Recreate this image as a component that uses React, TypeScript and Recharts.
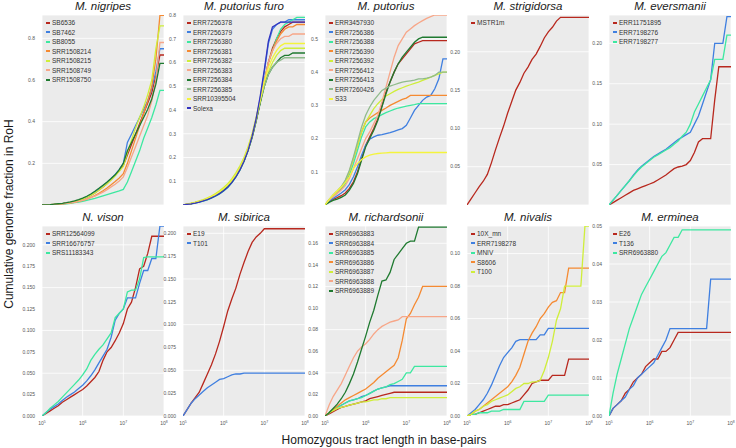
import { LineChart, Line, XAxis, YAxis, CartesianGrid } from 'recharts';

// log10 of the tract length (bp) at each sample point
const logLen = [
  5.0, 5.1, 5.2, 5.3, 5.4, 5.5, 5.6, 5.7, 5.8, 5.9,
  6.0, 6.1, 6.2, 6.3, 6.4, 6.5, 6.6, 6.7, 6.8, 6.9,
  7.0, 7.1, 7.2, 7.3, 7.4, 7.5, 7.6, 7.7, 7.8, 7.9, 8.0,
];
const xTicks = [5, 6, 7, 8];

const palette = ['#b8281e', '#3f7fe0', '#3de8a0', '#f58a32', '#cfee3a', '#f7a688', '#1f7a30', '#90bb8c', '#f4f43c', '#3434c0'];

// --- M. nigripes
const sb6536 = [0, 0.001, 0.002, 0.003, 0.005, 0.007, 0.009, 0.012, 0.016, 0.021, 0.028, 0.036, 0.046, 0.058, 0.072, 0.087, 0.103, 0.122, 0.142, 0.165, 0.19, 0.24, 0.29, 0.34, 0.39, 0.44, 0.49, 0.54, 0.62, 0.72, 0.72];
const sb7462 = [0, 0.001, 0.002, 0.003, 0.005, 0.007, 0.009, 0.012, 0.016, 0.022, 0.029, 0.038, 0.049, 0.062, 0.076, 0.092, 0.108, 0.127, 0.147, 0.17, 0.2, 0.3, 0.34, 0.38, 0.42, 0.46, 0.5, 0.56, 0.64, 0.75, 0.75];
const sb8055 = [0, 0.001, 0.001, 0.002, 0.003, 0.004, 0.006, 0.008, 0.011, 0.014, 0.018, 0.022, 0.027, 0.032, 0.038, 0.044, 0.05, 0.056, 0.062, 0.068, 0.075, 0.11, 0.16, 0.21, 0.26, 0.32, 0.37, 0.42, 0.48, 0.55, 0.55];
const srr1508214 = [0, 0.001, 0.002, 0.003, 0.004, 0.006, 0.008, 0.01, 0.013, 0.017, 0.022, 0.028, 0.036, 0.045, 0.056, 0.068, 0.082, 0.097, 0.113, 0.13, 0.15, 0.2, 0.26, 0.32, 0.38, 0.44, 0.5, 0.57, 0.7, 0.91, 0.91];
const srr1508215 = [0, 0.001, 0.002, 0.003, 0.005, 0.007, 0.009, 0.012, 0.016, 0.021, 0.028, 0.036, 0.046, 0.058, 0.071, 0.086, 0.102, 0.12, 0.14, 0.162, 0.185, 0.25, 0.31, 0.37, 0.42, 0.47, 0.53, 0.6, 0.75, 0.86, 0.86];
const srr1508749 = [0, 0.001, 0.002, 0.003, 0.004, 0.006, 0.008, 0.01, 0.013, 0.017, 0.022, 0.028, 0.035, 0.043, 0.052, 0.062, 0.074, 0.087, 0.1, 0.115, 0.135, 0.18, 0.23, 0.28, 0.33, 0.38, 0.43, 0.5, 0.6, 0.78, 0.78];
const srr1508750 = [0, 0.001, 0.002, 0.004, 0.006, 0.008, 0.011, 0.015, 0.02, 0.026, 0.033, 0.042, 0.053, 0.066, 0.08, 0.095, 0.11, 0.127, 0.145, 0.17, 0.2, 0.26, 0.3, 0.34, 0.38, 0.42, 0.46, 0.51, 0.58, 0.68, 0.68];

// --- M. putorius furo
const err7256378 = [0, 0.003, 0.006, 0.01, 0.014, 0.019, 0.025, 0.032, 0.04, 0.05, 0.062, 0.077, 0.096, 0.12, 0.15, 0.185, 0.23, 0.285, 0.355, 0.435, 0.52, 0.6, 0.66, 0.7, 0.73, 0.75, 0.76, 0.77, 0.77, 0.77, 0.77];
const err7256379 = [0, 0.003, 0.006, 0.009, 0.013, 0.018, 0.024, 0.031, 0.039, 0.049, 0.061, 0.076, 0.095, 0.12, 0.15, 0.185, 0.23, 0.29, 0.36, 0.45, 0.56, 0.68, 0.74, 0.76, 0.77, 0.77, 0.78, 0.78, 0.78, 0.78, 0.78];
const err7256380 = [0, 0.003, 0.005, 0.008, 0.012, 0.016, 0.022, 0.029, 0.037, 0.047, 0.059, 0.074, 0.093, 0.117, 0.147, 0.183, 0.228, 0.283, 0.353, 0.433, 0.52, 0.6, 0.65, 0.7, 0.74, 0.76, 0.77, 0.78, 0.79, 0.79, 0.79];
const err7256381 = [0, 0.003, 0.006, 0.01, 0.014, 0.019, 0.025, 0.032, 0.041, 0.051, 0.063, 0.078, 0.097, 0.121, 0.151, 0.187, 0.232, 0.288, 0.357, 0.437, 0.52, 0.6, 0.65, 0.69, 0.72, 0.74, 0.75, 0.75, 0.76, 0.76, 0.76];
const err7256382 = [0, 0.004, 0.008, 0.012, 0.017, 0.023, 0.03, 0.038, 0.048, 0.06, 0.074, 0.09, 0.11, 0.135, 0.165, 0.2, 0.245, 0.3, 0.37, 0.44, 0.5, 0.56, 0.6, 0.63, 0.65, 0.66, 0.66, 0.66, 0.66, 0.66, 0.66];
const err7256383 = [0, 0.003, 0.006, 0.01, 0.014, 0.019, 0.025, 0.033, 0.042, 0.052, 0.065, 0.08, 0.1, 0.124, 0.154, 0.19, 0.235, 0.29, 0.36, 0.44, 0.52, 0.6, 0.65, 0.68, 0.7, 0.71, 0.71, 0.72, 0.72, 0.72, 0.72];
const err7256384 = [0, 0.003, 0.006, 0.01, 0.014, 0.019, 0.025, 0.032, 0.041, 0.051, 0.063, 0.078, 0.097, 0.121, 0.151, 0.187, 0.232, 0.287, 0.355, 0.43, 0.5, 0.55, 0.58, 0.6, 0.62, 0.63, 0.63, 0.64, 0.64, 0.64, 0.64];
const err7256385 = [0, 0.003, 0.006, 0.01, 0.015, 0.02, 0.026, 0.034, 0.043, 0.054, 0.067, 0.082, 0.101, 0.125, 0.155, 0.19, 0.235, 0.29, 0.36, 0.44, 0.5, 0.55, 0.58, 0.6, 0.61, 0.62, 0.62, 0.62, 0.62, 0.62, 0.62];
const srr10395504 = [0, 0.004, 0.007, 0.011, 0.016, 0.021, 0.028, 0.036, 0.045, 0.056, 0.069, 0.085, 0.104, 0.128, 0.158, 0.194, 0.24, 0.295, 0.365, 0.44, 0.52, 0.58, 0.62, 0.65, 0.67, 0.68, 0.68, 0.68, 0.68, 0.68, 0.68];
const solexa = [0, 0.003, 0.005, 0.008, 0.012, 0.017, 0.023, 0.03, 0.038, 0.048, 0.06, 0.075, 0.094, 0.118, 0.148, 0.184, 0.23, 0.29, 0.365, 0.46, 0.57, 0.69, 0.75, 0.76, 0.77, 0.77, 0.77, 0.77, 0.77, 0.77, 0.77];

// --- M. putorius
const err3457930 = [0, 0.01, 0.017, 0.022, 0.028, 0.036, 0.05, 0.07, 0.1, 0.14, 0.18, 0.205, 0.23, 0.26, 0.3, 0.34, 0.37, 0.4, 0.425, 0.44, 0.455, 0.47, 0.485, 0.49, 0.495, 0.495, 0.495, 0.495, 0.495, 0.495, 0.495];
const err7256386 = [0, 0.012, 0.02, 0.028, 0.036, 0.046, 0.062, 0.085, 0.115, 0.15, 0.18, 0.198, 0.205, 0.21, 0.212, 0.215, 0.218, 0.222, 0.226, 0.23, 0.24, 0.262, 0.285, 0.3, 0.315, 0.325, 0.33, 0.35, 0.38, 0.44, 0.44];
const err7256388 = [0, 0.014, 0.026, 0.036, 0.048, 0.064, 0.09, 0.125, 0.165, 0.205, 0.235, 0.25, 0.26, 0.265, 0.272, 0.278, 0.283, 0.288, 0.292, 0.295, 0.298, 0.3, 0.302, 0.305, 0.305, 0.305, 0.305, 0.305, 0.305, 0.305, 0.305];
const err7256390 = [0, 0.015, 0.028, 0.04, 0.052, 0.07, 0.1, 0.14, 0.18, 0.22, 0.25, 0.262, 0.27, 0.278, 0.285, 0.292, 0.3, 0.306, 0.312, 0.318, 0.322, 0.33, 0.33, 0.33, 0.33, 0.33, 0.33, 0.33, 0.33, 0.33, 0.33];
const err7256392 = [0, 0.016, 0.03, 0.042, 0.055, 0.073, 0.1, 0.14, 0.18, 0.22, 0.25, 0.27, 0.29, 0.305, 0.318, 0.328, 0.335, 0.342, 0.348, 0.353, 0.358, 0.362, 0.366, 0.37, 0.375, 0.38, 0.385, 0.39, 0.395, 0.4, 0.4];
const err7256412 = [0, 0.015, 0.025, 0.035, 0.045, 0.058, 0.08, 0.11, 0.14, 0.17, 0.2, 0.22, 0.245, 0.27, 0.31, 0.355, 0.4, 0.445, 0.48, 0.5, 0.52, 0.53, 0.54, 0.548, 0.555, 0.562, 0.567, 0.572, 0.572, 0.572, 0.572];
const err7256413 = [0, 0.008, 0.014, 0.018, 0.023, 0.03, 0.045, 0.065, 0.095, 0.135, 0.175, 0.2, 0.225, 0.255, 0.295, 0.335, 0.37, 0.4, 0.425, 0.445, 0.46, 0.475, 0.49, 0.5, 0.505, 0.505, 0.505, 0.505, 0.505, 0.505, 0.505];
const err7260426 = [0, 0.016, 0.03, 0.042, 0.055, 0.075, 0.105, 0.145, 0.19, 0.235, 0.27, 0.295, 0.315, 0.33, 0.345, 0.352, 0.358, 0.362, 0.366, 0.37, 0.372, 0.374, 0.376, 0.38, 0.38, 0.382, 0.385, 0.39, 0.4, 0.4, 0.4];
const s33 = [0, 0.016, 0.03, 0.042, 0.054, 0.068, 0.085, 0.11, 0.125, 0.137, 0.145, 0.15, 0.153, 0.155, 0.156, 0.157, 0.158, 0.158, 0.158, 0.158, 0.158, 0.158, 0.158, 0.158, 0.158, 0.158, 0.158, 0.158, 0.158, 0.158, 0.158];

// --- M. strigidorsa
const mstr1m = [0, 0.008, 0.016, 0.024, 0.031, 0.04, 0.055, 0.072, 0.088, 0.103, 0.12, 0.135, 0.15, 0.16, 0.172, 0.18, 0.19, 0.197, 0.207, 0.218, 0.226, 0.232, 0.24, 0.245, 0.245, 0.245, 0.245, 0.245, 0.245, 0.245, 0.245];

// --- M. eversmanii
const err11751895 = [0, 0.003, 0.006, 0.009, 0.012, 0.015, 0.018, 0.02, 0.022, 0.024, 0.026, 0.028, 0.031, 0.034, 0.037, 0.041, 0.045, 0.047, 0.048, 0.05, 0.055, 0.065, 0.078, 0.082, 0.082, 0.082, 0.13, 0.171, 0.171, 0.171, 0.171];
const err7198276 = [0, 0.006, 0.012, 0.018, 0.024, 0.03, 0.037, 0.043, 0.048, 0.052, 0.056, 0.06, 0.063, 0.066, 0.069, 0.073, 0.077, 0.081, 0.084, 0.087, 0.09, 0.1, 0.11, 0.125, 0.14, 0.155, 0.2, 0.2, 0.2, 0.233, 0.233];
const err7198277 = [0, 0.006, 0.012, 0.018, 0.024, 0.03, 0.036, 0.042, 0.047, 0.051, 0.055, 0.059, 0.062, 0.065, 0.068, 0.071, 0.075, 0.079, 0.085, 0.09, 0.1, 0.115, 0.125, 0.135, 0.145, 0.155, 0.18, 0.18, 0.18, 0.21, 0.21];

// --- N. vison
const srr12564099 = [0, 0.003, 0.006, 0.009, 0.012, 0.016, 0.019, 0.022, 0.025, 0.028, 0.031, 0.035, 0.04, 0.045, 0.052, 0.065, 0.075, 0.08, 0.088, 0.097, 0.108, 0.125, 0.133, 0.15, 0.172, 0.175, 0.19, 0.21, 0.21, 0.21, 0.21];
const srr16676757 = [0, 0.004, 0.008, 0.011, 0.014, 0.018, 0.022, 0.025, 0.028, 0.032, 0.036, 0.041, 0.047, 0.054, 0.062, 0.07, 0.078, 0.092, 0.112, 0.12, 0.125, 0.138, 0.138, 0.138, 0.155, 0.17, 0.17, 0.184, 0.184, 0.222, 0.222];
const srs11183343 = [0, 0.004, 0.009, 0.013, 0.017, 0.022, 0.027, 0.032, 0.037, 0.042, 0.048, 0.055, 0.065, 0.072, 0.078, 0.083, 0.09, 0.097, 0.115, 0.12, 0.125, 0.145, 0.147, 0.147, 0.16, 0.185, 0.186, 0.186, 0.186, 0.186, 0.186];

// --- M. sibirica
const e19 = [0, 0.007, 0.014, 0.02, 0.026, 0.036, 0.046, 0.056, 0.068, 0.082, 0.098, 0.115, 0.128, 0.14, 0.155, 0.168, 0.18, 0.19, 0.196, 0.2, 0.205, 0.205, 0.205, 0.205, 0.205, 0.205, 0.205, 0.205, 0.205, 0.205, 0.205];
const t101 = [0, 0.007, 0.014, 0.019, 0.023, 0.027, 0.031, 0.034, 0.037, 0.04, 0.041, 0.043, 0.045, 0.046, 0.046, 0.047, 0.047, 0.047, 0.047, 0.047, 0.047, 0.047, 0.047, 0.047, 0.047, 0.047, 0.047, 0.047, 0.047, 0.047, 0.047];

// --- M. richardsonii
const srr6963883 = [0, 0.002, 0.004, 0.006, 0.008, 0.009, 0.01, 0.011, 0.012, 0.013, 0.014, 0.016, 0.017, 0.018, 0.019, 0.02, 0.021, 0.022, 0.022, 0.022, 0.022, 0.022, 0.022, 0.022, 0.022, 0.022, 0.022, 0.022, 0.022, 0.022, 0.022];
const srr6963884 = [0, 0.003, 0.006, 0.008, 0.01, 0.012, 0.014, 0.015, 0.016, 0.018, 0.019, 0.021, 0.023, 0.025, 0.026, 0.027, 0.028, 0.028, 0.028, 0.028, 0.028, 0.028, 0.028, 0.028, 0.028, 0.028, 0.028, 0.028, 0.028, 0.028, 0.028];
const srr6963885 = [0, 0.003, 0.006, 0.008, 0.01, 0.012, 0.014, 0.015, 0.016, 0.017, 0.019, 0.021, 0.023, 0.025, 0.026, 0.027, 0.029, 0.03, 0.032, 0.034, 0.04, 0.04, 0.046, 0.046, 0.046, 0.046, 0.046, 0.046, 0.046, 0.046, 0.046];
const srr6963886 = [0, 0.003, 0.006, 0.009, 0.012, 0.015, 0.017, 0.019, 0.021, 0.023, 0.025, 0.028, 0.031, 0.035, 0.038, 0.041, 0.044, 0.047, 0.054, 0.07, 0.09, 0.095, 0.103, 0.11, 0.12, 0.12, 0.12, 0.12, 0.12, 0.12, 0.12];
const srr6963887 = [0, 0.003, 0.005, 0.007, 0.008, 0.009, 0.01, 0.011, 0.012, 0.013, 0.013, 0.014, 0.015, 0.015, 0.016, 0.016, 0.017, 0.017, 0.017, 0.017, 0.017, 0.017, 0.017, 0.017, 0.017, 0.017, 0.017, 0.017, 0.017, 0.017, 0.017];
const srr6963888 = [0, 0.01, 0.018, 0.024, 0.03, 0.038, 0.046, 0.054, 0.06, 0.064, 0.067, 0.071, 0.076, 0.08, 0.083, 0.085, 0.087, 0.088, 0.089, 0.092, 0.092, 0.092, 0.092, 0.092, 0.092, 0.092, 0.092, 0.092, 0.092, 0.092, 0.092];
const srr6963889 = [0, 0.003, 0.007, 0.011, 0.016, 0.022, 0.03, 0.039, 0.05, 0.062, 0.074, 0.087, 0.098, 0.112, 0.125, 0.126, 0.133, 0.145, 0.15, 0.155, 0.16, 0.162, 0.162, 0.175, 0.175, 0.175, 0.175, 0.175, 0.175, 0.175, 0.175];

// --- M. nivalis
const mn10X = [0, 0.001, 0.001, 0.002, 0.003, 0.004, 0.005, 0.006, 0.006, 0.007, 0.007, 0.008, 0.009, 0.01, 0.013, 0.016, 0.02, 0.021, 0.022, 0.022, 0.022, 0.025, 0.025, 0.025, 0.025, 0.035, 0.035, 0.035, 0.035, 0.035, 0.035];
const err7198278 = [0, 0.002, 0.004, 0.007, 0.01, 0.014, 0.019, 0.025, 0.031, 0.036, 0.039, 0.042, 0.046, 0.047, 0.047, 0.047, 0.047, 0.047, 0.05, 0.05, 0.054, 0.054, 0.054, 0.054, 0.054, 0.054, 0.054, 0.054, 0.054, 0.054, 0.054];
const mniv = [0, 0.001, 0.001, 0.002, 0.002, 0.002, 0.003, 0.003, 0.003, 0.004, 0.004, 0.004, 0.004, 0.004, 0.009, 0.009, 0.009, 0.009, 0.009, 0.009, 0.0128, 0.0128, 0.0128, 0.0128, 0.0128, 0.0128, 0.0128, 0.0128, 0.0128, 0.0128, 0.0128];
const s8606 = [0, 0.001, 0.003, 0.004, 0.006, 0.008, 0.01, 0.012, 0.014, 0.016, 0.018, 0.021, 0.025, 0.03, 0.038, 0.046, 0.051, 0.055, 0.06, 0.063, 0.067, 0.07, 0.071, 0.076, 0.076, 0.091, 0.091, 0.091, 0.091, 0.091, 0.091];
const t100 = [0, 0.001, 0.003, 0.004, 0.006, 0.007, 0.009, 0.01, 0.011, 0.012, 0.013, 0.015, 0.017, 0.018, 0.02, 0.02, 0.021, 0.021, 0.022, 0.028, 0.036, 0.046, 0.059, 0.066, 0.08, 0.08, 0.08, 0.08, 0.08, 0.117, 0.117];

// --- M. erminea
const e26 = [0, 0.002, 0.003, 0.004, 0.006, 0.007, 0.009, 0.01, 0.011, 0.013, 0.014, 0.015, 0.015, 0.017, 0.017, 0.018, 0.02, 0.022, 0.022, 0.022, 0.022, 0.022, 0.022, 0.022, 0.022, 0.022, 0.022, 0.022, 0.022, 0.022, 0.022];
const t136 = [0, 0.002, 0.003, 0.004, 0.005, 0.007, 0.008, 0.01, 0.011, 0.012, 0.013, 0.014, 0.016, 0.018, 0.02, 0.023, 0.023, 0.023, 0.023, 0.023, 0.023, 0.023, 0.023, 0.023, 0.023, 0.036, 0.036, 0.036, 0.036, 0.036, 0.036];
const srr6963880 = [0, 0.006, 0.011, 0.015, 0.019, 0.023, 0.026, 0.029, 0.032, 0.034, 0.036, 0.038, 0.04, 0.042, 0.043, 0.045, 0.047, 0.047, 0.049, 0.049, 0.049, 0.049, 0.049, 0.049, 0.049, 0.049, 0.049, 0.049, 0.049, 0.049, 0.049];

// y tick values per panel
const ticksTenth8 = [0, 0.2, 0.4, 0.6, 0.8];
const ticksFuro = [0, 0.1, 0.2, 0.3, 0.4, 0.5, 0.6, 0.7, 0.8];
const ticksPutorius = [0, 0.1, 0.2, 0.3, 0.4, 0.5];
const ticksFifth = [0, 0.05, 0.1, 0.15, 0.2];
const ticksQuarter = [0, 0.025, 0.05, 0.075, 0.1, 0.125, 0.15, 0.175, 0.2];
const ticksRichardsonii = [0, 0.02, 0.04, 0.06, 0.08, 0.1, 0.12, 0.14, 0.16];
const ticksNivalis = [0, 0.02, 0.04, 0.06, 0.08, 0.1];
const ticksErminea = [0, 0.01, 0.02, 0.03, 0.04, 0.05];

interface Panel {
  title: string;
  col: number;
  row: number;
  yMax: number;
  yTicks: number[];
  digits: number;
  series: [string, number[]][];
}

const panels: Panel[] = [
  {
    title: 'M. nigripes', col: 0, row: 0, yMax: 0.912, yTicks: ticksTenth8, digits: 1,
    series: [['SB6536', sb6536], ['SB7462', sb7462], ['SB8055', sb8055], ['SRR1508214', srr1508214], ['SRR1508215', srr1508215], ['SRR1508749', srr1508749], ['SRR1508750', srr1508750]],
  },
  {
    title: 'M. putorius furo', col: 1, row: 0, yMax: 0.8, yTicks: ticksFuro, digits: 1,
    series: [['ERR7256378', err7256378], ['ERR7256379', err7256379], ['ERR7256380', err7256380], ['ERR7256381', err7256381], ['ERR7256382', err7256382], ['ERR7256383', err7256383], ['ERR7256384', err7256384], ['ERR7256385', err7256385], ['SRR10395504', srr10395504], ['Solexa', solexa]],
  },
  {
    title: 'M. putorius', col: 2, row: 0, yMax: 0.572, yTicks: ticksPutorius, digits: 1,
    series: [['ERR3457930', err3457930], ['ERR7256386', err7256386], ['ERR7256388', err7256388], ['ERR7256390', err7256390], ['ERR7256392', err7256392], ['ERR7256412', err7256412], ['ERR7256413', err7256413], ['ERR7260426', err7260426], ['S33', s33]],
  },
  {
    title: 'M. strigidorsa', col: 3, row: 0, yMax: 0.248, yTicks: ticksFifth, digits: 2,
    series: [['MSTR1m', mstr1m]],
  },
  {
    title: 'M. eversmanii', col: 4, row: 0, yMax: 0.235, yTicks: ticksFifth, digits: 2,
    series: [['ERR11751895', err11751895], ['ERR7198276', err7198276], ['ERR7198277', err7198277]],
  },
  {
    title: 'N. vison', col: 0, row: 1, yMax: 0.222, yTicks: ticksQuarter, digits: 3,
    series: [['SRR12564099', srr12564099], ['SRR16676757', srr16676757], ['SRS11183343', srs11183343]],
  },
  {
    title: 'M. sibirica', col: 1, row: 1, yMax: 0.208, yTicks: ticksQuarter, digits: 3,
    series: [['E19', e19], ['T101', t101]],
  },
  {
    title: 'M. richardsonii', col: 2, row: 1, yMax: 0.176, yTicks: ticksRichardsonii, digits: 2,
    series: [['SRR6963883', srr6963883], ['SRR6963884', srr6963884], ['SRR6963885', srr6963885], ['SRR6963886', srr6963886], ['SRR6963887', srr6963887], ['SRR6963888', srr6963888], ['SRR6963889', srr6963889]],
  },
  {
    title: 'M. nivalis', col: 3, row: 1, yMax: 0.117, yTicks: ticksNivalis, digits: 2,
    series: [['10X_mn', mn10X], ['ERR7198278', err7198278], ['MNIV', mniv], ['S8606', s8606], ['T100', t100]],
  },
  {
    title: 'M. erminea', col: 4, row: 1, yMax: 0.05, yTicks: ticksErminea, digits: 2,
    series: [['E26', e26], ['T136', t136], ['SRR6963880', srr6963880]],
  },
];

const COL_LEFT = [42, 183, 325, 467, 609];
const ROW_TOP = [15, 226];
const PLOT_W = 122;
const PLOT_H = 190;
const Y_W = 30;
const PAD = 5;
const FONT = "'Liberation Sans', Arial, sans-serif";

const PowTick = ({ x, y, payload }: any) => (
  <text x={x} y={y + 5} textAnchor="middle" fontSize={5} fill="#555">
    10
    <tspan dy={-2.5} fontSize={3.5}>{payload.value}</tspan>
  </text>
);

function SmallPanel({ p }: { p: Panel }) {
  const left = COL_LEFT[p.col];
  const top = ROW_TOP[p.row];
  const bottomRow = p.row === 1;
  const xH = bottomRow ? 14 : 1;
  const data = logLen.map((x, i) => {
    const row: Record<string, number> = { x };
    p.series.forEach(([name, vals]) => {
      row[name] = vals[i];
    });
    return row;
  });

  return (
    <>
      <div
        style={{
          position: 'absolute', left, top: top - 16, width: PLOT_W, textAlign: 'center',
          fontSize: 11.5, fontStyle: 'italic', fontWeight: 400, color: '#222', lineHeight: '15px', whiteSpace: 'nowrap',
        }}
      >
        {p.title}
      </div>
      <div style={{ position: 'absolute', left: left - Y_W, top: top - PAD }}>
        <LineChart
          width={Y_W + PLOT_W + PAD}
          height={PAD + PLOT_H + xH}
          data={data}
          margin={{ top: PAD, right: PAD, bottom: 0, left: 0 }}
        >
          <CartesianGrid fill="#ebebeb" stroke="#ffffff" strokeWidth={0.8} />
          <XAxis
            dataKey="x"
            type="number"
            domain={[5, 8]}
            ticks={xTicks}
            allowDataOverflow
            height={xH}
            axisLine={false}
            tickLine={false}
            tickSize={2}
            tickMargin={2}
            tick={bottomRow ? <PowTick /> : false}
          />
          <YAxis
            type="number"
            domain={[0, p.yMax]}
            ticks={p.yTicks}
            allowDataOverflow
            width={Y_W}
            axisLine={false}
            tickLine={false}
            tickSize={4}
            tickMargin={3}
            tick={{ fontSize: 5, fill: '#555' }}
            tickFormatter={(v: number) => v.toFixed(p.digits)}
          />
          {p.series.map(([name], i) => (
            <Line
              key={name}
              dataKey={name}
              type="linear"
              stroke={palette[i]}
              strokeWidth={1.3}
              dot={false}
              activeDot={false}
              isAnimationActive={false}
            />
          ))}
        </LineChart>
      </div>
      <div
        style={{
          position: 'absolute', left: left + 4, top: top + 3, fontSize: 6.5, lineHeight: '9.5px', color: '#333',
        }}
      >
        {p.series.map(([name], i) => (
          <div key={name} style={{ display: 'flex', alignItems: 'center', whiteSpace: 'nowrap' }}>
            <span style={{ display: 'inline-block', width: 3.5, height: 1.6, background: palette[i], marginRight: 2.5 }} />
            {name}
          </div>
        ))}
      </div>
    </>
  );
}

export default function App() {
  return (
    <div
      style={{
        position: 'absolute', left: 0, top: 0, width: 736, height: 448, background: '#fff',
        fontFamily: FONT, overflow: 'hidden',
      }}
    >
      {panels.map((p) => (
        <SmallPanel key={p.title} p={p} />
      ))}
      <div
        style={{
          position: 'absolute', left: 9 - 130, top: 214 - 8, width: 260, height: 16, lineHeight: '16px',
          textAlign: 'center', fontSize: 12, color: '#1a1a1a', transform: 'rotate(-90deg)', whiteSpace: 'nowrap',
        }}
      >
        Cumulative genome fraction in RoH
      </div>
      <div
        style={{
          position: 'absolute', left: 234, top: 432, width: 300, height: 16, lineHeight: '16px',
          textAlign: 'center', fontSize: 12, color: '#1a1a1a', whiteSpace: 'nowrap',
        }}
      >
        Homozygous tract length in base-pairs
      </div>
    </div>
  );
}
